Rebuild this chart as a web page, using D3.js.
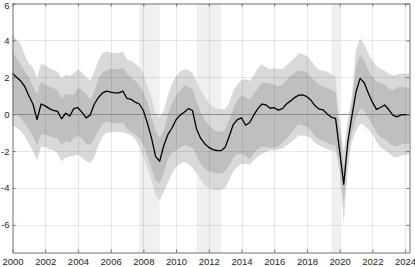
<!DOCTYPE html>
<html>
<head>
<meta charset="utf-8">
<script src="https://cdn.jsdelivr.net/npm/d3@7"></script>
<style>
  html, body { margin: 0; padding: 0; background: #fff; }
  svg { display: block; font-family: "Liberation Sans", Arial, sans-serif; }
</style>
</head>
<body>
<div id="chart"></div>
<script>
// quarterly observations, 2000Q1 .. 2024Q2
const startYear = 2000;
const median = [2.2, 2.0, 1.8, 1.5, 1.0, 0.55, -0.3, 0.55, 0.45, 0.3, 0.2, 0.15, -0.25, 0.05, -0.1, 0.3,
  0.35, 0.1, -0.2, -0.05, 0.55, 0.9, 1.15, 1.25, 1.2, 1.15, 1.15, 1.25, 0.85, 0.8, 0.65, 0.55,
  0.2, -0.5, -1.3, -2.3, -2.55, -1.7, -1.1, -0.75, -0.3, -0.05, 0.1, 0.3, 0.2, -0.8, -1.3, -1.6,
  -1.8, -1.92, -1.97, -1.98, -1.8, -1.2, -0.55, -0.3, -0.2, -0.6, -0.45, -0.05, 0.3, 0.55, 0.5, 0.32,
  0.35, 0.22, 0.3, 0.55, 0.72, 0.9, 1.03, 1.04, 0.95, 0.75, 0.45, 0.27, 0.23, 0.0, -0.17, -0.23,
  -2.0, -3.8, -1.5, -0.1, 1.2, 1.94, 1.7, 1.15, 0.65, 0.26, 0.36, 0.5, 0.25, -0.05, -0.15, -0.04,
  -0.02, -0.02];
const outerHi = [4.3, 4.05, 3.8, 3.2, 2.75, 2.55, 1.9, 2.75, 2.65, 2.5, 2.4, 2.3, 1.95, 2.15, 2.05, 2.2,
  2.45, 2.25, 2.0, 1.8, 2.3, 2.9, 3.3, 3.4, 3.35, 3.3, 3.3, 3.4, 2.95, 2.9, 2.75, 2.55,
  2.2, 1.5, 0.9, 0.0, -0.2, 0.2, 1.0, 1.67, 2.05, 2.3, 2.43, 2.4, 2.25, 1.8, 1.3, 0.95,
  0.6, 0.4, 0.3, 0.26, 0.3, 0.6, 1.3, 1.6, 1.85, 1.9, 1.8, 2.1, 2.5, 2.7, 2.55, 2.45,
  2.5, 2.45, 2.45, 2.65, 2.85, 3.05, 3.3, 3.25, 3.15, 2.9, 2.6, 2.4, 2.35, 2.3, 2.15, 2.05,
  -0.3, -2.0, -0.3, 1.0, 3.5, 4.1, 3.8, 3.3, 2.9, 2.6, 2.45, 2.35, 2.2, 2.1, 2.15, 2.2,
  2.2, 2.2];
const innerHi = [3.38, 3.05, 2.7, 2.3, 2.0, 1.5, 1.1, 1.75, 1.6, 1.48, 1.4, 1.3, 0.85, 1.1, 1.05, 1.05,
  1.45, 1.3, 1.1, 0.8, 1.2, 1.9, 2.25, 2.4, 2.45, 2.45, 2.45, 2.5, 2.2, 2.0, 1.8, 1.55,
  1.2, 0.6, -0.2, -0.9, -1.3, -0.9, 0.0, 0.6, 1.0, 1.3, 1.55, 1.5, 1.35, 0.7, 0.1, -0.3,
  -0.6, -0.8, -0.95, -0.96, -0.85, -0.3, 0.3, 0.8, 1.0, 0.95, 0.8, 1.1, 1.4, 1.7, 1.7, 1.65,
  1.6, 1.5, 1.6, 1.85, 2.1, 2.25, 2.35, 2.35, 2.25, 2.0, 1.8, 1.6, 1.5, 1.4, 1.3, 1.2,
  -1.0, -2.9, -1.0, 0.6, 2.6, 3.2, 2.9, 2.4, 2.0, 1.75, 1.7, 1.6, 1.4, 1.3, 1.45, 1.48,
  1.45, 1.45];
const innerLo = [0.1, 0.0, -0.2, -0.5, -0.8, -1.2, -1.7, -1.1, -1.1, -1.2, -1.25, -1.3, -1.65, -1.45, -1.55, -1.3,
  -1.15, -1.3, -1.6, -1.65, -1.3, -0.9, -0.55, -0.4, -0.45, -0.5, -0.5, -0.45, -0.8, -0.95, -1.1, -1.3,
  -1.7, -2.3, -2.95, -3.6, -3.76, -3.2, -2.45, -2.1, -1.95, -1.8, -1.68, -1.72, -1.85, -2.25, -2.7, -2.95,
  -3.1, -3.18, -3.22, -3.22, -3.1, -2.75, -2.35, -2.15, -2.15, -2.25, -2.45, -2.1, -1.9, -1.75, -1.78, -1.82,
  -1.8, -1.75, -1.55, -1.3, -1.05, -0.75, -0.55, -0.6, -0.7, -0.9, -1.2, -1.35, -1.45, -1.55, -1.65, -1.7,
  -2.7, -4.8, -2.1, -1.0, -0.2, 0.3, 0.2, -0.2, -0.55, -1.0, -1.25, -1.35, -1.55, -1.7, -1.75, -1.65,
  -1.6, -1.6];
const outerLo = [-0.6, -0.75, -0.9, -1.2, -1.6, -2.0, -2.5, -1.75, -1.8, -1.9, -1.95, -2.1, -2.55, -2.35, -2.3, -2.25,
  -2.2, -2.35, -2.55, -2.65, -2.35, -1.7, -1.2, -1.0, -1.0, -0.97, -0.96, -1.0, -1.05, -1.15, -1.35, -1.75,
  -2.3, -2.95, -3.6, -4.4, -4.67, -4.2, -3.7, -3.2, -2.85, -2.7, -2.6, -2.7, -2.9, -3.2, -3.55, -3.85,
  -4.0, -4.09, -4.13, -4.1, -4.0, -3.55, -3.1, -2.85, -2.7, -2.7, -2.75, -2.5, -2.3, -2.15, -2.05, -1.95,
  -1.95, -1.9, -1.86, -1.7, -1.55, -1.35, -1.15, -1.15, -1.2, -1.3, -1.55, -1.7, -1.8, -1.9, -1.95, -2.0,
  -3.2, -5.9, -2.9, -1.5, -0.9, -0.5, -0.6, -0.85, -1.05, -1.5, -1.8, -1.95, -2.1, -2.3, -2.35, -2.25,
  -2.2, -2.2];

// shaded periods [from, to]
const shadedPeriods = [[2007.75, 2009.0], [2011.25, 2012.75], [2019.5, 2020.0]];
const xTicks = [2000, 2002, 2004, 2006, 2008, 2010, 2012, 2014, 2016, 2018, 2020, 2022, 2024];
const yTicks = [-6, -4, -2, 0, 2, 4, 6];

const W = 415, H = 267;
const pLeft = 12.5, pRight = 409.5, pTop = 3.5, pBottom = 252.5;

const rows = median.map((m, i) => ({
  t: startYear + i * 0.25,
  m: m, oh: outerHi[i], ih: innerHi[i], il: innerLo[i], ol: outerLo[i]
}));

const x = d3.scaleLinear().domain([2000, 2024.27]).range([pLeft, pRight]);
const y = d3.scaleLinear().domain([-7.5, 6]).range([pBottom, pTop]);

const svg = d3.select("#chart").append("svg")
  .attr("width", W)
  .attr("height", H);

// recession-style shading
svg.append("g").selectAll("rect")
  .data(shadedPeriods)
  .join("rect")
  .attr("x", d => x(d[0]))
  .attr("y", pTop)
  .attr("width", d => x(d[1]) - x(d[0]))
  .attr("height", pBottom - pTop)
  .attr("fill", "#f0f0f0");

// fan bands
const area = (lo, hi) => d3.area()
  .x(d => x(d.t))
  .y0(d => y(d[lo]))
  .y1(d => y(d[hi]));

svg.append("path").datum(rows)
  .attr("fill", "#d9d9d9")
  .attr("d", area("ol", "oh"));
svg.append("path").datum(rows)
  .attr("fill", "#bfbfbf")
  .attr("d", area("il", "ih"));

// grid
const grid = svg.append("g").attr("stroke", "#000").attr("stroke-opacity", 0.09).attr("stroke-width", 1);
grid.selectAll(".gx")
  .data(xTicks.slice(1))
  .join("line")
  .attr("x1", d => Math.round(x(d)) + 0.5)
  .attr("x2", d => Math.round(x(d)) + 0.5)
  .attr("y1", pTop).attr("y2", pBottom);
grid.selectAll(".gy")
  .data(yTicks.filter(v => v !== 6))
  .join("line")
  .attr("y1", d => Math.round(y(d)) + 0.5)
  .attr("y2", d => Math.round(y(d)) + 0.5)
  .attr("x1", pLeft).attr("x2", pRight);

// zero line
svg.append("line")
  .attr("x1", pLeft).attr("x2", pRight)
  .attr("y1", Math.round(y(0)) + 0.5).attr("y2", Math.round(y(0)) + 0.5)
  .attr("stroke", "#8c8c8c")
  .attr("stroke-width", 1);

// median line
svg.append("path").datum(rows)
  .attr("fill", "none")
  .attr("stroke", "#000")
  .attr("stroke-width", 1.3)
  .attr("stroke-linejoin", "round")
  .attr("d", d3.line().x(d => x(d.t)).y(d => y(d.m)));

// axes: box with inward ticks
const axisColor = "#6e6e6e";
const gBottom = svg.append("g")
  .attr("transform", `translate(0,${pBottom})`)
  .call(d3.axisBottom(x).tickValues(xTicks).tickFormat(d3.format("d")).tickSizeInner(-3).tickSizeOuter(0).tickPadding(6));
const gTop = svg.append("g")
  .attr("transform", `translate(0,${pTop})`)
  .call(d3.axisTop(x).tickValues(xTicks).tickFormat("").tickSizeInner(-3).tickSizeOuter(0));
const gLeft = svg.append("g")
  .attr("transform", `translate(${pLeft},0)`)
  .call(d3.axisLeft(y).tickValues(yTicks).tickFormat(d => String(d)).tickSizeInner(-3).tickSizeOuter(0).tickPadding(3));
const gRight = svg.append("g")
  .attr("transform", `translate(${pRight},0)`)
  .call(d3.axisRight(y).tickValues(yTicks).tickFormat("").tickSizeInner(-3).tickSizeOuter(0));

[gBottom, gTop, gLeft, gRight].forEach(g => {
  g.select(".domain").attr("stroke", axisColor);
  g.selectAll(".tick line").attr("stroke", axisColor);
  g.selectAll("text").attr("fill", "#262626").style("font-size", "9.5px");
});
// top label sits just inside the window
gLeft.selectAll(".tick text").filter(d => d === 6).attr("y", 2);
</script>
</body>
</html>
